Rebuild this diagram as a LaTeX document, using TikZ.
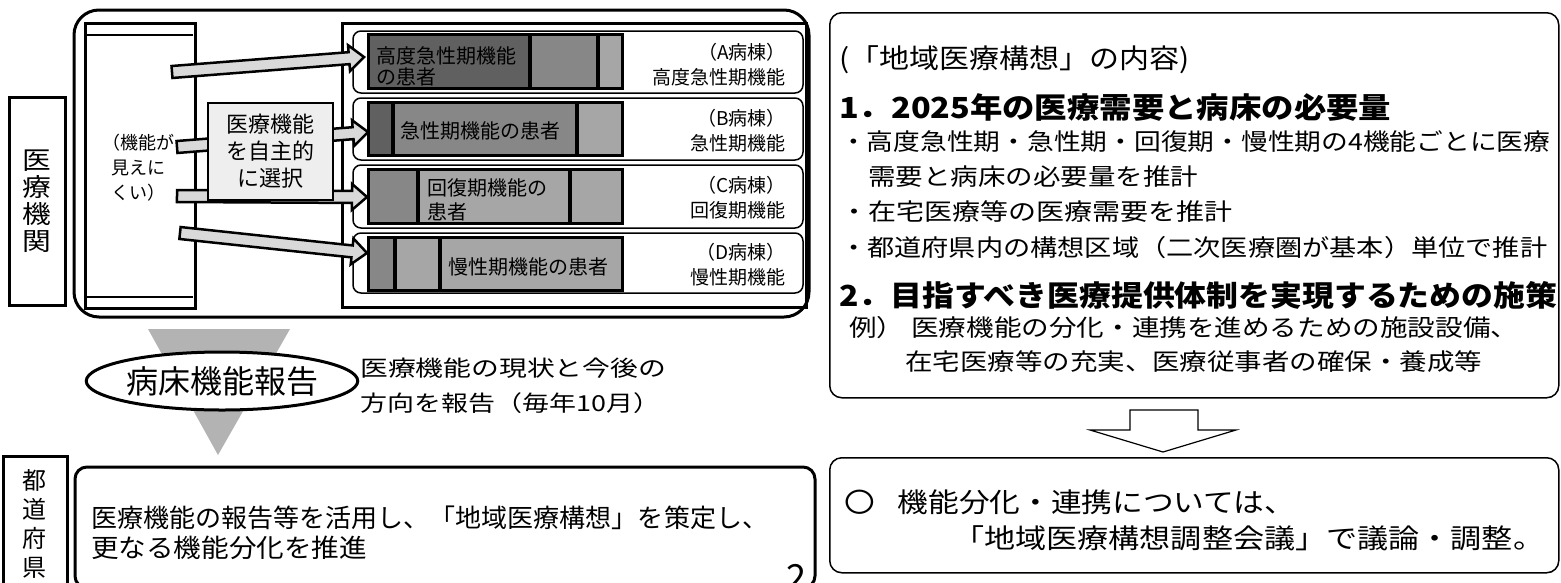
\documentclass[tikz,border=0pt]{standalone}
\usepackage{graphicx}
\usepackage{fontspec}
\setmainfont{Noto Sans CJK JP}
\newfontfamily\widejp{Noto Sans CJK JP}[FakeStretch=1.15]
\usepackage{tikz}
\usetikzlibrary{calc,positioning,shapes.geometric}
\definecolor{segdark}{HTML}{606060}
\definecolor{segmid}{HTML}{878787}
\definecolor{seglight}{HTML}{A6A6A6}
\definecolor{arrowfill}{HTML}{D9D9D9}
\definecolor{choosefill}{HTML}{EEEEEE}
\definecolor{reportfill}{HTML}{B3B3B3}
\newcommand{\fsz}[2]{\fontsize{#1}{#2}\selectfont}
% one line of text, widened to a given width
\newcommand{\fitline}[2]{\resizebox{#1}{\height}{#2}}
\tikzset{
  thickbox/.style={draw, line width=3pt},
  wardbox/.style={draw, line width=1.5pt, rounded corners=8pt, fill=white},
  barframe/.style={draw, line width=3pt},
  barsep/.style={line width=4pt},
  bartxt/.style={font=\fsz{20}{21}, inner sep=0pt},
  wardlabel/.style={font=\fsz{19}{25}, align=right, anchor=east, inner sep=0pt},
  blockarr/.style={draw, line width=2.5pt, fill=arrowfill, line join=miter},
  rbox/.style={draw, line width=1.5pt, rounded corners=12pt, inner sep=0pt, anchor=north west},
  rtxt/.style={font=\fsz{23.5}{23.5}, anchor=west, inner sep=0pt},
  rhead/.style={font=\fsz{29}{29}\bfseries, anchor=west, inner sep=0pt}
}
% block arrow from tail coordinate to tip coordinate
\newcommand{\blockarrow}[2]{%
  \coordinate (h) at ($(#2)!15pt!(#1)$);
  \draw[blockarr] ($(#1)!6pt!90:(#2)$) -- ($(h)!6pt!90:(#2)$) -- ($(h)!13pt!90:(#2)$)
    -- (#2) -- ($(h)!13pt!-90:(#2)$) -- ($(h)!6pt!-90:(#2)$) -- ($(#1)!6pt!-90:(#2)$) -- cycle;}

\begin{document}
\begin{tikzpicture}[x=1pt,y=-1pt]
\useasboundingbox (0,0) rectangle (1561,582);

% hospital
\draw[line width=3pt, rounded corners=25pt, fill=white] (74,10) rectangle (809,317);
\node[thickbox, minimum width=56pt, minimum height=208pt, inner sep=0pt, align=center, font=\widejp\fsz{25}{27}] (kikan) at (37,201) {医\\療\\機\\関};

\draw[thickbox] (85,23) rectangle (195,308);
\draw[line width=1.2pt] (87,35) -- (193,35) (87,297) -- (193,297);
\node[align=center, font=\fsz{18}{25}, inner sep=0pt] (mienai) at (138,168) {（機能が\\見えに\\くい）};

\draw[thickbox] (342,23) rectangle (806,307);
\foreach \t/\b in {31/93, 98/160, 165/228, 233/293}
  \draw[wardbox] (353,\t) rectangle (803,\b);

% wards
\foreach \t/\b/\sa/\sb/\ca/\cb/\cc in {34/88/530/598/segdark/segmid/seglight,
    102/155/393/577/segdark/segmid/seglight,
    169/223/418/570/segmid/seglight/seglight,
    237/290/395/440/segmid/seglight/seglight}{
  \fill[\ca] (368,\t) rectangle (\sa,\b);
  \fill[\cb] (\sa,\t) rectangle (\sb,\b);
  \fill[\cc] (\sb,\t) rectangle (622,\b);
  \draw[barsep] (\sa,\t) -- (\sa,\b) (\sb,\t) -- (\sb,\b);
  \draw[barframe] (368,\t) rectangle (622,\b);
}
\node[bartxt, anchor=west, align=left] (patA) at (376,66) {高度急性期機能\\の患者};
\node[bartxt, anchor=west] (patB) at (400,131) {急性期機能の患者};
\node[bartxt, anchor=west, align=left, font=\fsz{20}{24}] (patC) at (427,200) {回復期機能の\\患者};
\node[bartxt, anchor=west] (patD) at (448,267) {慢性期機能の患者};

\node[wardlabel] (wardA) at (786,65) {（A病棟）\\高度急性期機能};
\node[wardlabel] (wardB) at (786,131) {（B病棟）\\急性期機能};
\node[wardlabel] (wardC) at (786,198) {（C病棟）\\回復期機能};
\node[wardlabel] (wardD) at (786,265) {（D病棟）\\慢性期機能};

% arrows to the wards
\coordinate (tailA) at (172,72);
\coordinate (tailB) at (177,147);
\coordinate (tailC) at (177,196);
\coordinate (tailD) at (180,233);
\coordinate (tipA) at (364,57);
\coordinate (tipB) at (368,132);
\coordinate (tipC) at (367,197);
\coordinate (tipD) at (367,253);
\blockarrow{tailA}{tipA}
\blockarrow{tailB}{tipB}
\blockarrow{tailC}{tipC}
\blockarrow{tailD}{tipD}

\node[draw, line width=1.2pt, fill=choosefill, minimum width=125pt, minimum height=97pt, inner sep=0pt, align=center, font=\fsz{22}{27}] (choose) at (270.5,151.5) {医療機能\\を自主的\\に選択};

% report
\fill[reportfill] (148,329) -- (290,329) -- (218,455) -- cycle;
\node[ellipse, draw, line width=3pt, fill=white, minimum width=250pt, minimum height=58pt, inner sep=0pt, font=\fsz{32}{32}] (report) at (222,381) {病床機能報告};
\node[anchor=west, inner sep=0pt, font=\fsz{22}{22}] (reporttxt1) at (360,368) {\fitline{306pt}{医療機能の現状と今後の}};
\node[anchor=west, inner sep=0pt, font=\fsz{22}{22}] (reporttxt2) at (360,403) {\fitline{300pt}{方向を報告（毎年10月）}};

% prefecture
\node[thickbox, minimum width=64pt, minimum height=135pt, inner sep=0pt, anchor=north, align=center, font=\fsz{24}{29}] (pref) at (35,455) {都\\道\\府\\県};
\draw[line width=3pt, rounded corners=12pt] (75,467) rectangle (815,588);
\node[anchor=west, inner sep=0pt, font=\fsz{25.5}{25.5}] (preftxt1) at (91,518) {\fitline{677pt}{医療機能の報告等を活用し、「地域医療構想」を策定し、}};
\node[anchor=west, inner sep=0pt, font=\fsz{25.5}{25.5}] (preftxt2) at (91,548) {\fitline{276pt}{更なる機能分化を推進}};
\node[anchor=base east, inner sep=0pt, font=\fsz{36}{36}] (pageno) at (807,590) {2};

% vision
\node[rbox, minimum width=729pt, minimum height=385pt] (vision) at (829,12) {};
\node[rtxt, font=\fsz{27}{27}] (vhead) at (839,60) {\fitline{350pt}{(「地域医療構想」の内容)}};
\node[rhead] (v1) at (839,107) {\fitline{552pt}{1．2025年の医療需要と病床の必要量}};
\node[rtxt] (v1a) at (840,142) {\fitline{710pt}{・高度急性期・急性期・回復期・慢性期の4機能ごとに医療}};
\node[rtxt] (v1b) at (868,177) {\fitline{330pt}{需要と病床の必要量を推計}};
\node[rtxt] (v1c) at (840,212) {\fitline{392pt}{・在宅医療等の医療需要を推計}};
\node[rtxt] (v1d) at (840,248) {\fitline{707pt}{・都道府県内の構想区域（二次医療圏が基本）単位で推計}};
\node[rhead] (v2) at (839,295) {\fitline{718pt}{2．目指すべき医療提供体制を実現するための施策}};
\node[rtxt] (v2a) at (849,328) {\fitline{669pt}{例）\hspace{6pt}医療機能の分化・連携を進めるための施設設備、}};
\node[rtxt] (v2b) at (905,362) {\fitline{577pt}{在宅医療等の充実、医療従事者の確保・養成等}};

\draw[line width=1.2pt, fill=white] (1130,410) -- (1198,410) -- (1198,430) -- (1236,430) -- (1163,452) -- (1090,430) -- (1130,430) -- cycle;

\node[rbox, minimum width=729pt, minimum height=115pt] (council) at (829,457) {};
\node[rtxt, font=\fsz{27}{27}] (council1) at (844,502) {\fitline{451pt}{〇\hspace{20pt}機能分化・連携については、}};
\node[rtxt, font=\fsz{27}{27}] (council2) at (953,538) {\fitline{591pt}{「地域医療構想調整会議」で議論・調整。}};
\end{tikzpicture}
\end{document}
